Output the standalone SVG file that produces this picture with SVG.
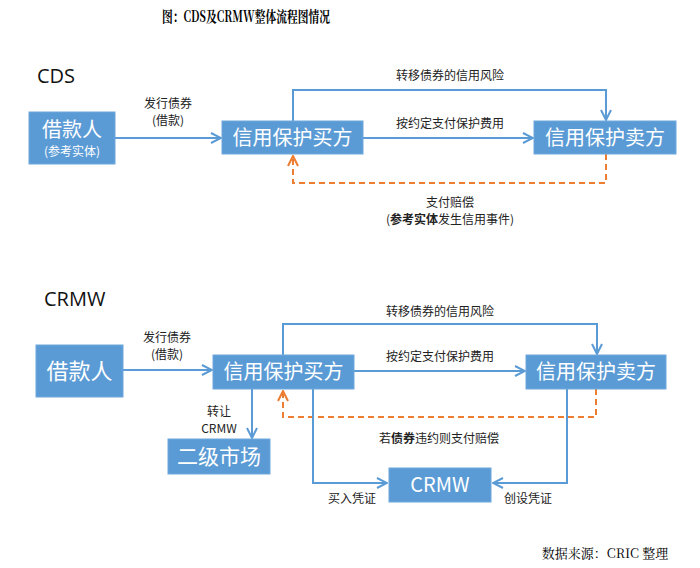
<svg xmlns="http://www.w3.org/2000/svg" width="700" height="568" viewBox="0 0 700 568">
<style>
.box{fill:#5b9bd5;stroke:#6fa8dc;stroke-width:1}
.bt{fill:#fff;font-family:"Noto Sans CJK SC","Noto Sans",sans-serif;text-anchor:middle}
.lbl{fill:#222;font-family:"Noto Sans CJK SC","Noto Sans",sans-serif;font-size:12px;text-anchor:middle}
.sec{fill:#111;font-family:"Open Sans","Noto Sans",sans-serif;font-size:20px}
.ln{fill:none;stroke:#5b9bd5;stroke-width:2}
.dl{fill:none;stroke:#ed7d31;stroke-width:2;stroke-dasharray:6 4}
</style>
<defs>
<marker id="ab" viewBox="0 0 12 12" refX="11" refY="6" markerWidth="12" markerHeight="12" markerUnits="userSpaceOnUse" orient="auto">
<path d="M1,1 L11,6 L1,11" fill="none" stroke="#5b9bd5" stroke-width="2"/>
</marker>
<marker id="ao" viewBox="0 0 12 12" refX="11" refY="6" markerWidth="12" markerHeight="12" markerUnits="userSpaceOnUse" orient="auto">
<path d="M1,1 L11,6 L1,11" fill="none" stroke="#ed7d31" stroke-width="2"/>
</marker>
</defs>
<rect width="700" height="568" fill="#fff"/>
<text x="162" y="22" textLength="168" lengthAdjust="spacingAndGlyphs" font-family="'Noto Serif CJK SC','Noto Sans CJK SC',serif" font-size="15" font-weight="bold" fill="#000">图：CDS及CRMW整体流程图情况</text>

<text class="sec" x="37" y="83">CDS</text>
<text class="sec" x="44" y="306">CRMW</text>

<g id="connectors">
<!-- CDS -->
<line class="ln" x1="115" y1="138" x2="221" y2="138" marker-end="url(#ab)"/>
<polyline class="ln" points="293,121 293,90 606,90 606,120" marker-end="url(#ab)"/>
<line class="ln" x1="363" y1="138" x2="533" y2="138" marker-end="url(#ab)"/>
<polyline class="dl" points="606,154 606,183 293,183 293,156" marker-end="url(#ao)"/>
<!-- CRMW -->
<line class="ln" x1="123" y1="370" x2="212" y2="370" marker-end="url(#ab)"/>
<polyline class="ln" points="283,355 283,324 597,324 597,354" marker-end="url(#ab)"/>
<line class="ln" x1="354" y1="371" x2="525" y2="371" marker-end="url(#ab)"/>
<polyline class="dl" points="596,389 596,417 283,417 283,391" marker-end="url(#ao)"/>
<line class="ln" x1="252" y1="389" x2="252" y2="438" marker-end="url(#ab)"/>
<polyline class="ln" points="313,389 313,483 387,483" marker-end="url(#ab)"/>
<polyline class="ln" points="567,389 567,483 493,483" marker-end="url(#ab)"/>
</g>

<g id="cds-labels">
<text class="lbl" x="168" y="108">发行债券</text>
<text class="lbl" x="168" y="125">(借款)</text>
<text class="lbl" x="450" y="80">转移债券的信用风险</text>
<text class="lbl" x="450" y="128">按约定支付保护费用</text>
<text class="lbl" x="450" y="207">支付赔偿</text>
<text class="lbl" x="450" y="224">(<tspan font-weight="bold">参考实体</tspan>发生信用事件)</text>
</g>

<g id="cds-borrower">
<rect class="box" x="29" y="112" width="86" height="52"/>
<text class="bt" x="72" y="137" font-size="20">借款人</text>
<text class="bt" x="72" y="156" font-size="12">(参考实体)</text>
</g>
<g id="cds-buyer">
<rect class="box" x="222" y="121" width="141" height="33"/>
<text class="bt" x="292.5" y="145" font-size="20">信用保护买方</text>
</g>
<g id="cds-seller">
<rect class="box" x="534" y="121" width="142" height="33"/>
<text class="bt" x="605" y="145" font-size="20">信用保护卖方</text>
</g>

<g id="crmw-labels">
<text class="lbl" x="167" y="342">发行债券</text>
<text class="lbl" x="167" y="359">(借款)</text>
<text class="lbl" x="440" y="316">转移债券的信用风险</text>
<text class="lbl" x="440" y="361">按约定支付保护费用</text>
<text class="lbl" x="219" y="416">转让</text>
<text class="lbl" x="219" y="433" font-size="10.5" font-family="'Open Sans',sans-serif">CRMW</text>
<text class="lbl" x="439" y="443">若<tspan font-weight="bold">债券</tspan>违约则支付赔偿</text>
<text class="lbl" x="352" y="503">买入凭证</text>
<text class="lbl" x="528" y="503">创设凭证</text>
</g>

<g id="crmw-borrower">
<rect class="box" x="36" y="345" width="87" height="52"/>
<text class="bt" x="79.5" y="379" font-size="22">借款人</text>
</g>
<g id="crmw-buyer">
<rect class="box" x="213" y="355" width="141" height="34"/>
<text class="bt" x="283.5" y="379" font-size="20">信用保护买方</text>
</g>
<g id="crmw-seller">
<rect class="box" x="526" y="355" width="140" height="34"/>
<text class="bt" x="596" y="379" font-size="20">信用保护卖方</text>
</g>
<g id="secondary-market">
<rect class="box" x="168" y="439" width="102" height="35"/>
<text class="bt" x="219" y="464" font-size="21">二级市场</text>
</g>
<g id="crmw-box">
<rect class="box" x="389" y="468" width="102" height="34"/>
<text class="bt" x="440" y="492" font-size="20" font-family="'Open Sans',sans-serif">CRMW</text>
</g>

<text x="605" y="558" font-family="'Noto Serif CJK SC','Noto Sans CJK SC',serif" font-size="13" text-anchor="middle" fill="#000">数据来源：CRIC 整理</text>
</svg>
